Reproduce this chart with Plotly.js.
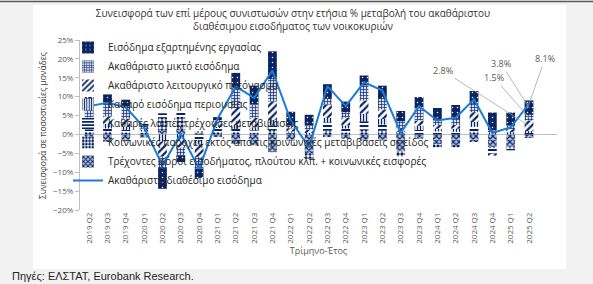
<!DOCTYPE html>
<html>
<head>
<meta charset="utf-8">
<script src="https://cdn.plot.ly/plotly-3.0.1.min.js"></script>
<style>
  html, body { margin: 0; padding: 0; background: #f2f2f2; }
  #chart { width: 593px; height: 284px; }
</style>
</head>
<body>
<div id="chart"></div>
<script>
// Quarters on the x axis
const quarters = [
  '2019 Q2','2019 Q3','2019 Q4',
  '2020 Q1','2020 Q2','2020 Q3','2020 Q4',
  '2021 Q1','2021 Q2','2021 Q3','2021 Q4',
  '2022 Q1','2022 Q2','2022 Q3','2022 Q4',
  '2023 Q1','2023 Q2','2023 Q3','2023 Q4',
  '2024 Q1','2024 Q2','2024 Q3','2024 Q4',
  '2025 Q1','2025 Q2'
];

// Contributions (percentage points) of each component
const compensation = [2.4, 2.2, 1.8, 0.5, -5.5, -1.8, -2.5, 0.8, 4.0, 5.0, 7.3, 3.6, 2.8, 3.9, 2.8, 2.6, 3.5, 2.7, 3.0, 3.3, 3.7, 3.4, 4.7, 3.4, 3.8];
const mixedIncome  = [3.5, 3.6, 3.2, 0.8, -3.0, -2.0, -3.0, 0.6, 5.3, 3.5, 6.0, 0.8, 1.1, 1.5, 1.5, 4.0, 2.8, 1.8, 3.2, 1.2, 1.6, 2.2, 0.6, 1.0, 1.5];
const opSurplus    = [1.5, 2.0, 2.2, 0.3, -4.0, -2.5, -3.5, 1.2, 4.5, 2.5, 4.8, 0.8, 0.9, 3.5, 2.0, 3.5, 2.5, 1.0, 1.4, 1.0, 1.0, 2.6, -0.5, 0.8, 2.8];
const property     = [1.0, 1.2, 0.8, 0.4, -1.9, -1.0, -1.0, 0.3, 1.0, 0.8, 1.5, 0.3, 0.4, 1.2, 0.8, 2.0, 1.5, 0.4, 1.1, 0.7, 0.8, 1.3, 0.5, 0.6, 0.5];
const otherTransf  = [0.8, 0.8, 0.6, 0.3, 1.2, 1.5, -1.5, 1.0, 0.8, 0.6, 1.2, 0.3, -0.5, 2.2, 1.0, 2.2, 1.6, 0.3, 1.2, 0.8, 0.7, 1.2, -1.4, -0.4, 0.4];
const socBenefits  = [0.7, 0.8, 0.6, 0.5, 3.4, 3.5, 0.5, 0.7, 0.7, 0.5, 1.2, 0.2, -1.4, 1.0, 0.6, 1.3, 1.0, -1.3, -0.3, -0.8, -0.6, 0.8, -0.4, -0.6, -0.3];
const taxes        = [-2.0, -2.0, -1.8, -0.8, 1.0, 1.2, 0.4, -0.7, -2.5, -2.9, -4.7, -1.6, -5.0, -0.7, -1.1, -1.6, -1.6, -4.5, -0.8, -2.6, -2.8, -2.0, -3.3, -3.2, -0.6];
// Gross disposable income, y/y %
const gdi          = [7.5, 8.4, 7.2, 1.8, -8.2, 0.2, -9.1, 4.1, 12.7, 9.7, 16.9, 3.7, -3.4, 12.8, 7.5, 13.8, 11.6, 0.4, 7.5, 3.7, 4.4, 9.3, 0.4, 1.9, 8.1];

const names = {
  compensation: 'Εισόδημα εξαρτημένης εργασίας',
  mixedIncome: 'Ακαθάριστο μικτό εισόδημα',
  opSurplus: 'Ακαθάριστο λειτουργικό πλεόνασμα',
  property: 'Καθαρό εισόδημα περιουσίας',
  otherTransf: 'Καθαρές λοιπές τρέχουσες μεταβιβάσεις',
  socBenefits: 'Κοινωνικές παροχές εκτός από τις κοινωνικές μεταβιβάσεις σε είδος',
  taxes: 'Τρέχοντες φόροι εισοδήματος, πλούτου κλπ. + κοινωνικές εισφορές',
  gdi: 'Ακαθάριστο διαθέσιμο εισόδημα'
};

const NAVY = '#0a2463';
const LIGHT = '#ffffff';

function barTrace(name, values, rank, pattern) {
  return {
    type: 'bar', name: name, x: quarters, y: values,
    legendrank: rank, legendgroup: 'g' + rank,
    marker: { color: pattern.bg, line: { width: 0 }, pattern: pattern },
    hoverinfo: 'skip'
  };
}

// Stacking order from the zero line outwards: taxes first, compensation last (on top)
const traces = [
  barTrace(names.taxes, taxes, 7, { shape: 'x', fgcolor: NAVY, bgcolor: '#b9c4dd', size: 4, solidity: 0.5 }),
  barTrace(names.socBenefits, socBenefits, 6, { shape: '.', fgcolor: NAVY, bgcolor: LIGHT, size: 4, solidity: 0.55 }),
  barTrace(names.otherTransf, otherTransf, 5, { shape: '-', fgcolor: NAVY, bgcolor: LIGHT, size: 4, solidity: 0.5 }),
  barTrace(names.property, property, 4, { shape: '|', fgcolor: NAVY, bgcolor: LIGHT, size: 3, solidity: 0.45 }),
  barTrace(names.opSurplus, opSurplus, 3, { shape: '/', fgcolor: NAVY, bgcolor: LIGHT, size: 5, solidity: 0.45 }),
  barTrace(names.mixedIncome, mixedIncome, 2, { shape: '+', fgcolor: NAVY, bgcolor: '#d3dbec', size: 3, solidity: 0.4 }),
  barTrace(names.compensation, compensation, 1, { shape: '.', fgcolor: '#ffffff', bgcolor: NAVY, size: 5, solidity: 0.07 }),
  {
    type: 'scatter', mode: 'lines', name: names.gdi, x: quarters, y: gdi,
    legendrank: 8, legendgroup: 'g8',
    line: { color: '#1c7bd4', width: 2 }, hoverinfo: 'skip'
  }
];

// Callouts on the latest quarter: total and the three main contributions
const last = quarters.length - 1;
function positiveCentre(stack, target) {
  let base = 0;
  for (const s of stack) {
    const v = s[last];
    if (s === target) return base + v / 2;
    if (v > 0) base += v;
  }
  return 0;
}
const stackOrder = [taxes, socBenefits, otherTransf, property, opSurplus, mixedIncome, compensation];
function callout(y, value, ax, ay) {
  return {
    x: quarters[last], y: y, xref: 'x', yref: 'y',
    text: value.toFixed(1) + '%', showarrow: true, arrowhead: 0,
    arrowwidth: 0.8, arrowcolor: '#a6a6a6', ax: ax, ay: ay,
    font: { family: 'Open Sans, sans-serif', size: 9, color: '#595959' }
  };
}

// Pixel geometry of the plot area
const L = 80, R = 36, T = 40, B = 74, WID = 593, HGT = 284;
const PW = WID - L - R, PH = HGT - T - B;
const px = v => (v - L) / PW;
const py = v => (HGT - B - v) / PH;

const layout = {
  width: WID, height: HGT,
  margin: { l: L, r: R, t: T, b: B },
  paper_bgcolor: '#f2f2f2',
  plot_bgcolor: 'rgba(0,0,0,0)',
  barmode: 'relative',
  bargap: 0.52,
  font: { family: 'Open Sans, sans-serif', color: '#404040' },
  title: {
    text: 'Συνεισφορά των επί μέρους συνιστωσών στην ετήσια % μεταβολή του ακαθάριστου<br>διαθέσιμου εισοδήματος των νοικοκυριών',
    x: 293 / WID, xref: 'container', xanchor: 'center',
    y: 1 - 17 / HGT, yref: 'container', yanchor: 'top',
    font: { family: 'Open Sans, sans-serif', size: 10, color: '#333333' }
  },
  xaxis: {
    type: 'category', tickangle: -90,
    tickfont: { size: 8, color: '#595959' },
    showline: false, ticks: '', showgrid: false,
    title: { text: 'Τρίμηνο-Έτος', font: { size: 9, color: '#595959' }, standoff: 4 },
    automargin: false
  },
  yaxis: {
    range: [-20, 25], dtick: 5, ticksuffix: '%',
    tickfont: { size: 8, color: '#595959' },
    showline: true, linecolor: '#bfbfbf', linewidth: 1,
    ticks: 'outside', ticklen: 4, tickcolor: '#bfbfbf',
    showgrid: false, zeroline: true, zerolinecolor: '#bfbfbf', zerolinewidth: 1,
    automargin: false
  },
  legend: {
    x: px(68), y: py(33), xanchor: 'left', yanchor: 'top',
    bgcolor: 'rgba(0,0,0,0)', traceorder: 'grouped', tracegroupgap: 0,
    maxheight: 400,
    font: { size: 10, color: '#262626' }
  },
  shapes: [
    { type: 'rect', xref: 'paper', yref: 'paper', layer: 'below',
      x0: px(33), x1: px(566), y0: py(269), y1: py(5),
      fillcolor: '#ffffff', line: { width: 0 } },
    { type: 'line', xref: 'paper', yref: 'paper', layer: 'below',
      x0: px(0), x1: px(593), y0: py(1.5), y1: py(1.5),
      line: { color: '#595959', width: 1.5 } }
  ],
  annotations: [
    callout(gdi[last], gdi[last], 16, -45),
    callout(positiveCentre(stackOrder, compensation), compensation[last], -28, -44),
    callout(positiveCentre(stackOrder, mixedIncome), mixedIncome[last], -35, -40),
    callout(positiveCentre(stackOrder, opSurplus), opSurplus[last], -86, -55),
    {
      xref: 'paper', yref: 'paper', x: px(42), y: py(126), textangle: -90,
      xanchor: 'center', yanchor: 'middle', showarrow: false,
      text: 'Συνεισφορά σε ποσοστιαίες μονάδες',
      font: { family: 'Open Sans, sans-serif', size: 8.5, color: '#404040' }
    },
    {
      xref: 'paper', yref: 'paper', x: px(10), y: py(276), xanchor: 'left', yanchor: 'middle',
      text: 'Πηγές: ΕΛΣΤΑΤ, Eurobank Research.', showarrow: false,
      font: { family: 'Liberation Sans, Arial, sans-serif', size: 11, color: '#262626' }
    }
  ]
};

Plotly.newPlot('chart', traces, layout, { displayModeBar: false, staticPlot: true });
</script>
</body>
</html>
